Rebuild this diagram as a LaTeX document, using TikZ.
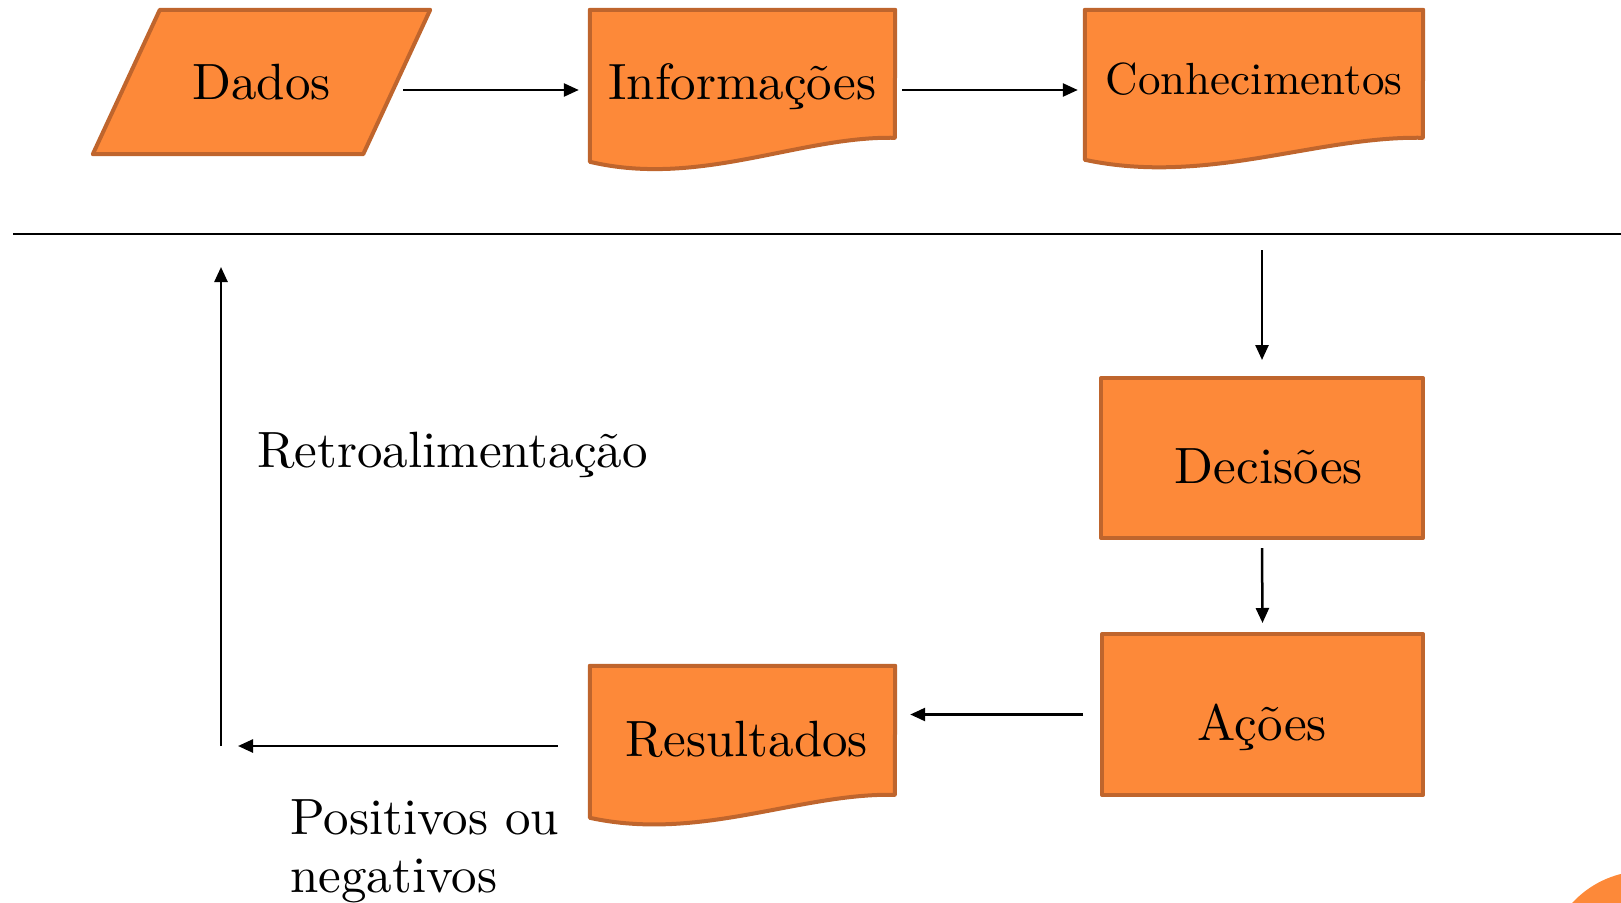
\documentclass[tikz,border=0pt]{standalone}
\usepackage{fontspec}
\setmainfont{lmroman10-regular.otf}
\usetikzlibrary{arrows.meta,calc,backgrounds}
\definecolor{ofill}{RGB}{253,137,57}
\definecolor{oline}{RGB}{191,101,45}
\begin{document}
\begin{tikzpicture}[x=1pt,y=-1pt,
  shapestyle/.style={fill=ofill,draw=oline,line width=4pt,line join=round},
  txt/.style={inner sep=0pt,text depth=0pt,font=\fontsize{51}{58}\selectfont},
  plain/.style={inner sep=0pt,font=\fontsize{51}{58}\selectfont},
  arr/.style={line width=2.5pt,-{Triangle[length=15pt,width=13pt]}},
]
\useasboundingbox (0,0) rectangle (1621,902);
\begin{scope}
  \clip (0,0) rectangle (1621,902);
  \fill[ofill] (1645,970) circle[radius=99];
\end{scope}

% nodes
\node[txt, minimum width=337pt, minimum height=144pt, text height=34pt] (dados) at (261.5,82) {Dados};
\node[txt, minimum width=305pt, minimum height=160pt, text height=18pt] (info) at (742.5,90) {Informações};
\node[txt, minimum width=338pt, minimum height=160pt, text height=8pt, font=\fontsize{45}{50}\selectfont] (conh) at (1254,90) {Conhecimentos};
\node[txt, shapestyle, minimum width=322pt, minimum height=160pt, text height=50pt] (dec) at (1262,458) {\hspace*{14pt}Decisões};
\node[txt, shapestyle, minimum width=321pt, minimum height=161pt, text height=51pt] (acoes) at (1262.5,714.5) {Ações};
\node[txt, minimum width=305pt, minimum height=160pt, text height=20pt] (res) at (742.5,746) {\hspace*{9pt}Resultados};

\node[plain, anchor=base west] (retro) at (257,467) {Retroalimentação};
\node[plain, anchor=base west, align=left] (posneg) at (290,892) {Positivos ou\\negativos};

% shapes behind the texts
\begin{scope}[on background layer]
  \draw[shapestyle] ($(dados.north west)+(67,0)$) -- (dados.north east)
     -- ($(dados.south east)+(-67,0)$) -- (dados.south west) -- cycle;
  \draw[shapestyle] (info.north west) -- (info.north east)
     -- ($(info.north west)+(305,128)$)
     .. controls ($(info.north west)+(210,126)$) and ($(info.north west)+(110,178)$)
     .. ($(info.north west)+(0,152)$) -- cycle;
  \draw[shapestyle] (conh.north west) -- (conh.north east)
     -- ($(conh.north west)+(338,128)$)
     .. controls ($(conh.north west)+(232,126)$) and ($(conh.north west)+(122,176)$)
     .. ($(conh.north west)+(0,150)$) -- cycle;
  \draw[shapestyle] (res.north west) -- (res.north east)
     -- ($(res.north west)+(305,129)$)
     .. controls ($(res.north west)+(210,127)$) and ($(res.north west)+(110,176)$)
     .. ($(res.north west)+(0,152)$) -- cycle;
\end{scope}

% divider
\coordinate (divL) at (13,234);
\coordinate (divR) at (1621,234);
\draw[line width=2.5pt] (divL) -- (divR);

% feedback coordinates
\coordinate (fb0) at (238,746);
\coordinate (fb1) at (221,746);
\coordinate (fb2) at (221,267);

% connectors
\draw[arr] ($(dados.east)+(-27,8)$) -- ($(info.west)+(-11,0)$);
\draw[arr] ($(info.east)+(7,0)$) -- ($(conh.west)+(-7,0)$);
\draw[arr] ($(conh.south -| dec.north)+(0,80)$) -- ($(dec.north)+(0,-16)$);
\draw[arr] ($(dec.south)+(0,8)$) -- ($(acoes.north)+(0,-9)$);
\draw[arr] ($(acoes.west)+(-17,0)$) -- ($(res.east |- acoes.west)+(15,0)$);
\draw[arr] ($(res.west)+(-32,0)$) -- (fb0);
\draw[arr] (fb1) -- (fb2);
\end{tikzpicture}
\end{document}
